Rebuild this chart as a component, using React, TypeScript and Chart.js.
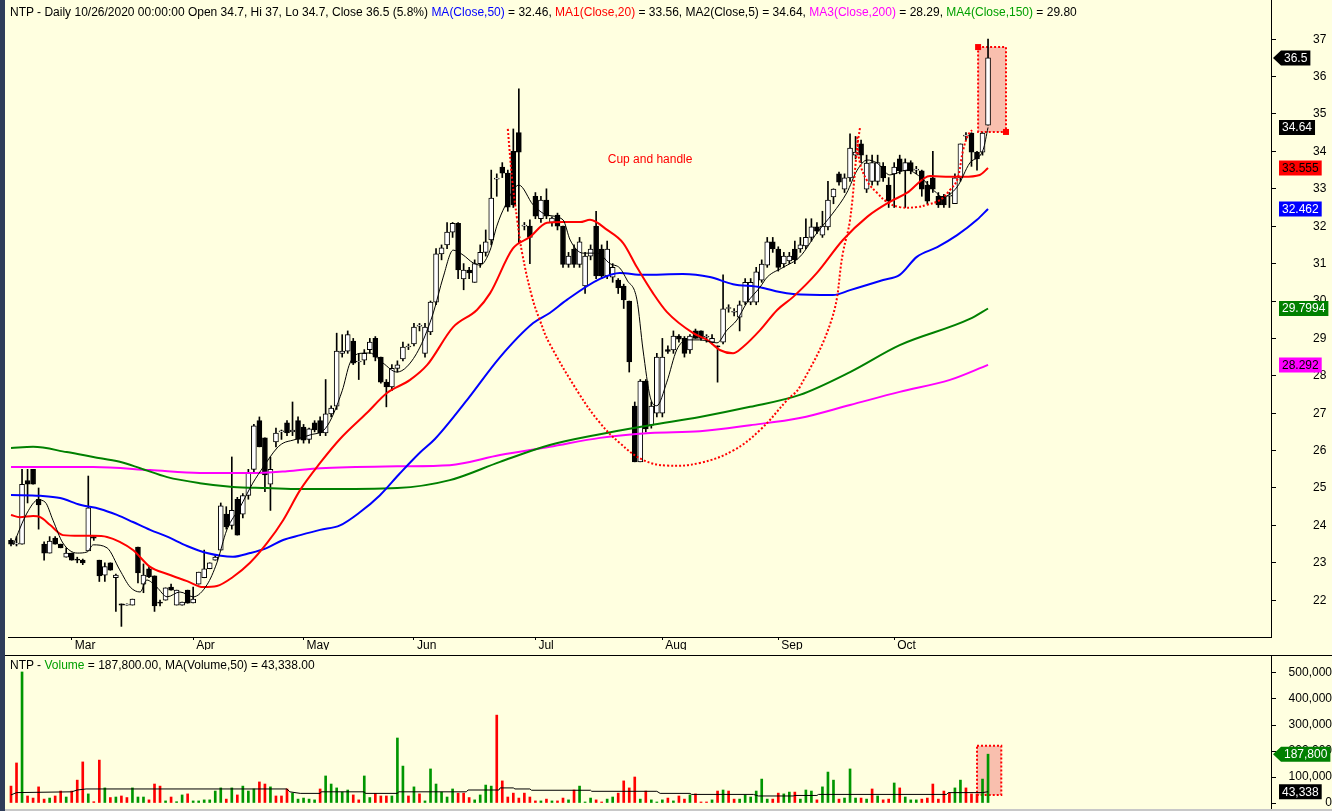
import React, { useEffect, useRef } from 'react';
import { Chart, registerables } from 'chart.js';
Chart.register(...registerables);

// ---------- DATA ----------
const monthStarts = [11, 33, 53, 73, 95, 118, 139, 160];
const monthLabels = ['Mar', 'Apr', 'May', 'Jun', 'Jul', 'Aug', 'Sep', 'Oct'];
const priceTicks = [22, 23, 24, 25, 26, 27, 28, 29, 30, 31, 32, 33, 34, 35, 36, 37];
const volumeTicks = [0, 100000, 200000, 300000, 400000, 500000];

const opens = [
  23.6, 23.5, 23.5, 25.2, 25.5, 24.7, 23.5, 23.26, 23.66, 23.5,
  23.15, 23.26, 23.1, 23.07, 23.32, 23.7, 23.07, 22.67, 23.0, 22.6,
  21.9, 21.87, 21.87, 23.42, 22.43, 22.84, 22.65, 21.95, 22.0, 22.35,
  21.87, 21.87, 22.27, 21.93, 22.43, 22.6, 22.84, 23.07, 23.34, 24.3,
  24.0, 24.7, 24.3, 24.8, 25.5, 26.8, 26.34, 25.1, 26.23, 26.5,
  26.74, 26.5, 26.8, 26.63, 26.3, 26.74, 26.8, 26.47, 26.98, 27.19,
  28.6, 28.66, 28.93, 28.37, 28.42, 28.7, 29.0, 28.5, 27.83, 27.7,
  28.2, 28.45, 28.77, 28.85, 29.33, 28.6, 29.17, 29.97, 31.26, 31.5,
  31.84, 32.08, 30.59, 30.83, 30.5, 31.0, 31.3, 31.63, 33.26, 33.58,
  33.42, 34.0, 34.5, 32.0, 32.0, 32.8, 32.2, 32.7, 32.1, 32.3,
  32.0, 30.98, 31.39, 30.98, 30.4, 31.2, 32.0, 31.39, 30.67, 30.64,
  30.56, 30.4, 30.0, 27.19, 25.7, 27.86, 26.68, 27.0, 27.0, 28.7,
  28.69, 29.06, 29.0, 28.69, 29.2, 29.2, 29.03, 28.9, 28.8, 28.9,
  29.8, 29.7, 29.57, 29.97, 29.97, 29.97, 30.56, 30.96, 31.58, 31.39,
  30.99, 31.07, 31.39, 31.39, 31.47, 31.7, 31.98, 31.76, 31.98, 32.78,
  33.4, 32.99, 33.29, 33.9, 34.2, 32.99, 33.2, 33.2, 33.6, 33.1,
  33.4, 33.8, 33.48, 33.7, 33.5, 33.48, 33.1, 33.29, 32.8, 32.8,
  32.8, 32.6, 33.29, 34.41, 34.49, 33.98, 33.98, 34.7
];
const highs = [
  23.65, 23.7, 25.5, 25.5, 25.5, 25.0, 23.56, 23.7, 23.7, 23.5,
  23.4, 23.26, 23.15, 23.1, 25.32, 23.7, 23.07, 23.0, 23.0, 22.7,
  21.9, 21.9, 22.03, 23.42, 22.97, 22.9, 22.65, 22.0, 22.33, 22.43,
  22.27, 21.95, 22.27, 22.35, 22.75, 23.34, 23.0, 23.2, 24.6, 24.5,
  25.83, 24.75, 24.85, 25.5, 26.7, 26.9, 26.34, 25.83, 26.6, 26.55,
  26.8, 27.3, 26.9, 26.7, 26.6, 26.8, 26.9, 27.9, 27.2, 29.14,
  29.1, 29.2, 29.0, 28.6, 28.7, 29.0, 29.05, 28.5, 27.9, 28.3,
  28.4, 28.9, 28.85, 29.4, 29.4, 29.4, 30.0, 31.4, 31.5, 32.1,
  32.1, 32.1, 31.0, 30.9, 31.1, 31.5, 31.9, 33.5, 33.4, 33.7,
  33.5, 34.6, 35.67, 32.1, 32.17, 32.9, 32.8, 33.0, 32.25, 32.35,
  32.0, 31.3, 31.5, 31.7, 31.3, 31.5, 32.4, 31.5, 31.6, 31.0,
  30.6, 30.45, 30.0, 27.3, 27.9, 27.9, 27.3, 28.6, 29.0, 28.8,
  29.2, 29.1, 29.05, 29.1, 29.25, 29.2, 29.1, 29.1, 28.8, 30.7,
  29.9, 29.8, 30.0, 30.6, 30.6, 30.9, 31.1, 31.7, 31.7, 31.45,
  31.3, 31.3, 31.6, 31.7, 32.2, 32.2, 32.1, 32.4, 33.2, 33.0,
  33.45, 33.4, 34.47, 34.4, 34.3, 33.9, 33.9, 33.9, 33.7, 33.3,
  33.7, 33.9, 33.8, 33.75, 33.6, 33.5, 33.2, 34.0, 32.9, 32.85,
  32.9, 33.4, 34.2, 34.5, 34.5, 34.0, 34.5, 37.0
];
const lows = [
  23.45, 23.45, 23.5, 24.6, 25.1, 23.9, 23.07, 23.26, 23.5, 23.4,
  23.15, 23.07, 23.0, 22.95, 23.32, 23.6, 22.5, 22.5, 22.8, 21.7,
  21.3, 21.87, 21.87, 22.46, 22.2, 22.6, 21.7, 21.85, 22.0, 22.27,
  21.87, 21.87, 21.92, 21.93, 22.43, 22.6, 22.84, 23.07, 23.34, 23.9,
  23.9, 23.74, 24.2, 24.7, 25.4, 26.1, 24.9, 24.4, 26.1, 26.3,
  26.4, 26.4, 26.2, 26.2, 26.2, 26.5, 26.4, 26.4, 26.9, 27.1,
  28.5, 28.6, 28.3, 27.9, 28.3, 28.6, 28.4, 27.8, 27.17, 27.6,
  28.1, 28.4, 28.7, 28.8, 29.2, 28.5, 29.1, 29.9, 31.1, 31.4,
  31.7, 30.6, 30.3, 30.6, 30.5, 30.9, 31.2, 31.5, 32.8, 33.3,
  32.4, 32.5, 31.55, 31.9, 31.0, 32.2, 32.1, 32.2, 32.0, 31.9,
  30.9, 30.9, 30.9, 30.9, 30.2, 31.1, 30.6, 30.6, 30.6, 30.5,
  30.2, 29.8, 28.1, 25.7, 25.7, 26.5, 26.6, 26.9, 26.9, 28.6,
  28.6, 28.9, 28.5, 28.6, 29.0, 28.95, 28.9, 28.85, 27.83, 28.85,
  29.7, 29.6, 29.2, 29.9, 29.9, 29.9, 30.5, 30.9, 31.3, 30.8,
  30.9, 31.0, 31.0, 31.3, 31.4, 31.6, 31.8, 31.7, 31.9, 32.6,
  33.1, 32.9, 33.2, 33.8, 33.7, 32.9, 33.1, 33.1, 33.2, 32.5,
  32.5, 33.4, 32.5, 33.4, 33.4, 32.8, 32.6, 32.9, 32.5, 32.5,
  32.5, 32.6, 33.2, 34.3, 33.6, 33.5, 33.9, 34.7
];
const closes = [
  23.5, 23.5, 25.1, 25.1, 25.1, 24.55, 23.26, 23.58, 23.5, 23.4,
  23.26, 23.07, 23.07, 23.0, 24.47, 23.66, 22.65, 22.9, 22.8, 22.67,
  21.87, 21.87, 22.03, 22.73, 22.67, 22.62, 21.85, 21.92, 22.33, 22.27,
  22.27, 21.95, 21.92, 22.03, 22.75, 22.84, 23.0, 23.15, 24.52, 23.96,
  24.4, 23.74, 24.8, 25.42, 26.66, 26.1, 25.35, 25.5, 26.47, 26.5,
  26.47, 26.55, 26.3, 26.28, 26.58, 26.55, 26.47, 26.98, 27.14, 28.66,
  28.66, 29.1, 28.34, 28.37, 28.6, 28.9, 28.5, 27.83, 27.7, 28.2,
  28.29, 28.77, 28.77, 29.3, 29.33, 29.3, 29.97, 31.26, 31.42, 31.84,
  32.08, 30.83, 30.83, 30.75, 31.0, 31.3, 31.58, 32.75, 33.26, 33.42,
  32.51, 32.57, 33.98, 32.0, 31.7, 32.27, 32.7, 32.27, 32.22, 32.0,
  30.98, 31.2, 30.98, 31.58, 31.2, 31.39, 30.67, 30.67, 31.39, 30.9,
  30.35, 30.03, 28.37, 25.7, 27.86, 26.58, 27.19, 28.5, 28.5, 28.65,
  29.06, 28.98, 28.6, 29.06, 29.0, 29.0, 29.03, 29.0, 28.77, 29.79,
  29.8, 29.7, 29.9, 30.5, 30.5, 30.78, 30.99, 31.58, 31.39, 30.9,
  31.2, 31.2, 31.1, 31.5, 31.7, 31.98, 31.87, 32.0, 32.7, 32.99,
  33.18, 33.29, 34.09, 33.98, 33.9, 33.69, 33.7, 33.7, 33.29, 32.67,
  33.58, 33.48, 33.7, 33.48, 33.5, 32.99, 32.67, 32.99, 32.57, 32.57,
  32.8, 33.29, 34.2, 34.41, 33.98, 33.8, 34.49, 36.5
];

const volumes = [
  65000, 154000, 504000, 27000, 19000, 62000, 15000, 19000, 27000, 46000,
  23000, 46000, 88000, 158000, 35000, 5000, 165000, 58000, 21000, 23000,
  27000, 21000, 58000, 23000, 23000, 12000, 73000, 65000, 8000, 23000,
  5000, 31000, 35000, 8000, 8000, 12000, 12000, 46000, 58000, 15000,
  58000, 31000, 65000, 46000, 54000, 81000, 73000, 62000, 27000, 27000,
  54000, 38000, 15000, 19000, 15000, 12000, 54000, 104000, 73000, 58000,
  42000, 50000, 31000, 12000, 104000, 21000, 37000, 27000, 27000, 27000,
  250000, 142000, 27000, 62000, 35000, 8000, 131000, 73000, 42000, 23000,
  54000, 38000, 38000, 21000, 12000, 31000, 69000, 65000, 338000,
  85000, 23000, 38000, 19000, 38000, 23000, 8000, 8000, 15000, 8000,
  8000, 19000, 12000, 50000, 65000, 4000, 19000, 12000, 4000, 15000,
  23000, 38000, 85000, 58000, 100000, 15000, 46000, 12000, 4000, 12000,
  19000, 8000, 27000, 15000, 31000, 35000, 4000, 4000, 12000, 46000,
  50000, 46000, 15000, 15000, 31000, 23000, 46000, 92000, 15000, 15000,
  38000, 35000, 42000, 42000, 15000, 50000, 46000, 12000, 62000, 119000,
  88000, 15000, 19000, 131000, 19000, 19000, 15000, 54000, 27000, 12000,
  15000, 77000, 58000, 23000, 12000, 12000, 15000, 19000, 73000, 15000,
  46000, 38000, 58000, 88000, 58000, 35000, 35000, 92000, 187800
];
// u = up day (green volume), d = down day (red volume)
const volumeDirection = [
  'd', 'd', 'u', 'd', 'd', 'd', 'd', 'u', 'd', 'd',
  'u', 'd', 'd', 'd', 'u', 'd', 'd', 'u', 'd', 'u',
  'd', 'd', 'u', 'u', 'u', 'd', 'd', 'd', 'u', 'd',
  'u', 'u', 'd', 'u', 'u', 'u', 'u', 'u', 'u', 'd',
  'u', 'd', 'u', 'u', 'u', 'd', 'd', 'u', 'd', 'd',
  'd', 'u', 'u', 'u', 'u', 'u', 'd', 'u', 'u', 'u',
  'u', 'u', 'd', 'd', 'u', 'u', 'd', 'd', 'd', 'u',
  'u', 'u', 'd', 'u', 'd', 'u', 'u', 'u', 'u', 'u',
  'u', 'd', 'd', 'd', 'u', 'u', 'u', 'u', 'd',
  'd', 'd', 'd', 'd', 'd', 'd', 'd', 'u', 'd', 'u',
  'd', 'd', 'u', 'd', 'u', 'u', 'u', 'd', 'd', 'u',
  'u', 'd', 'd', 'd', 'd', 'u', 'd', 'u', 'u', 'u',
  'd', 'u', 'd', 'd', 'u', 'd', 'd', 'd', 'u', 'd',
  'u', 'd', 'd', 'u', 'u', 'u', 'u', 'u', 'u', 'd',
  'd', 'u', 'u', 'd', 'u', 'u', 'u', 'd', 'u', 'u',
  'u', 'd', 'u', 'u', 'u', 'd', 'u', 'd', 'u', 'd',
  'd', 'u', 'd', 'u', 'u', 'u', 'd', 'd', 'd', 'd',
  'd', 'd', 'u', 'u', 'd', 'd', 'd', 'u', 'u'
];

// moving averages: [bar index, value]
const ma50 = [
  [0, 24.81], [5.3, 24.79], [8.9, 24.73], [12.5, 24.55], [16.1, 24.44], [19.2, 24.28],
  [22.1, 24.09], [25.2, 23.88], [28.3, 23.7], [31.9, 23.45], [35.5, 23.26], [40.2, 23.16],
  [43.3, 23.26], [46.4, 23.4], [49.3, 23.61], [52.4, 23.74], [56, 23.88], [59.6, 24.0],
  [63.2, 24.35], [66.8, 24.8], [70.5, 25.4], [74.1, 25.95], [76.8, 26.31], [82.6, 27.35],
  [88.6, 28.5], [94.6, 29.41], [97.6, 29.68], [100.7, 30.03], [106.7, 30.59], [110.3, 30.75],
  [114.5, 30.7], [121.7, 30.72], [126.6, 30.64], [130.8, 30.45], [135.7, 30.37], [139.3, 30.24],
  [141.7, 30.19], [148.9, 30.16], [152, 30.29], [158, 30.56], [161, 30.7], [164.1, 31.18],
  [167.8, 31.44], [171.4, 31.76], [175, 32.17], [177, 32.462]
];
const ma20 = [
  [0, 24.28], [1.6, 24.22], [4, 24.25], [5.3, 24.22], [7.1, 24.01], [9.4, 23.74], [12.5, 23.72],
  [14.9, 23.72], [17.4, 23.69], [19.7, 23.56], [22.1, 23.34], [25.2, 22.89], [28.3, 22.7],
  [31.9, 22.51], [34.8, 22.35], [37.3, 22.38], [40.2, 22.62], [43.3, 23.0], [46.4, 23.53],
  [49.3, 24.14], [52.4, 24.95], [56, 25.67], [59.6, 26.31], [64.5, 27.01], [68.1, 27.54],
  [72.3, 27.89], [75.4, 28.29], [80.1, 29.3], [84.4, 29.76], [86.8, 30.21], [90.9, 31.4],
  [94, 31.71], [97.1, 32.09], [100, 32.11], [103.1, 32.11], [104.9, 32.17], [108, 31.9],
  [110.9, 31.55], [113.4, 30.9], [116.3, 30.21], [118.8, 29.71], [123.6, 29.14], [126.1, 28.96],
  [128.4, 28.69], [130.8, 28.6], [132.6, 28.77], [135.7, 29.22], [138.8, 29.76], [141.7, 30.11],
  [146, 30.75], [150.7, 31.63], [155.1, 32.25], [159.2, 32.65], [162.3, 32.89], [166.5, 33.34],
  [170.1, 33.32], [172.5, 33.32], [175.5, 33.37], [177, 33.555]
];
const ma5 = [
  [0.4, 23.48], [2.9, 24.33], [4.9, 24.68], [6.2, 24.62], [7.6, 24.14], [9.4, 23.53], [12, 23.26],
  [13.8, 23.29], [14.9, 23.48], [17.4, 23.4], [19.7, 22.81], [21.6, 22.35], [23.4, 22.22],
  [24.6, 22.54], [26.4, 22.35], [28.3, 22.09], [30.6, 22.22], [33, 22.09], [35.5, 22.41],
  [37.3, 23.0], [39.1, 23.88], [41.5, 24.49], [43.8, 25.13], [45.7, 25.56], [48.2, 26.07],
  [49.3, 26.2], [51.1, 26.28], [54.2, 26.42], [57, 26.6], [60, 27.6], [61.4, 28.34], [63.2, 28.6],
  [65, 28.61], [67.4, 28.34], [69.9, 28.1], [71.7, 28.24], [74.1, 28.77], [76.5, 29.68],
  [78.3, 30.64], [80.1, 31.36], [81.9, 31.23], [83.7, 31.02], [85, 30.96], [86.8, 31.36],
  [88, 32.0], [89.5, 32.54], [92, 33.1], [94.6, 32.57], [97.1, 32.3], [100, 32.17], [101.3, 31.63],
  [103.6, 31.28], [106.2, 31.28], [108.5, 31.0], [110.3, 30.88], [111.6, 30.56], [113.4, 30.03],
  [114.5, 28.69], [115.8, 27.43], [117, 27.2], [118.8, 27.83], [120.6, 28.69], [122.5, 28.96],
  [124.8, 28.96], [127.9, 28.88], [129.7, 29.22], [131.5, 29.49], [133.3, 29.95], [135.7, 30.37],
  [137, 30.64], [139.9, 30.9], [142.9, 31.18], [146, 31.82], [148.9, 32.35], [151.4, 32.89],
  [153.3, 33.5], [155.1, 33.77], [156.9, 33.69], [159.2, 33.37], [162.3, 33.5], [164.7, 33.32],
  [167.1, 32.97], [168.8, 32.78], [171.4, 33.05], [173.7, 33.69], [176.1, 34.04], [177, 34.64]
];
const ma200 = [
  [0, 25.56], [14.9, 25.56], [25.2, 25.48], [34.2, 25.4], [43.3, 25.4], [50, 25.45], [56, 25.53],
  [70, 25.58], [79.5, 25.61], [88.6, 25.88], [97.6, 26.1], [106.7, 26.34], [115.8, 26.47],
  [124.8, 26.52], [133.9, 26.68], [142.9, 26.87], [152, 27.22], [161, 27.57], [170.1, 27.89],
  [177, 28.292]
];
const ma150 = [
  [0, 26.07], [4, 26.1], [10.1, 25.96], [14.9, 25.83], [19.7, 25.7], [23.4, 25.53], [28.3, 25.29],
  [34.2, 25.13], [40.2, 25.03], [46.4, 25.0], [52.4, 24.97], [56, 24.97], [70, 25.0], [79.5, 25.21],
  [88.6, 25.7], [97.6, 26.15], [106.7, 26.44], [115.8, 26.68], [124.8, 26.9], [133.9, 27.17],
  [142.9, 27.49], [152, 28.1], [161, 28.82], [173.7, 29.52], [177, 29.7994]
];
const volumeMa50 = [
  [0, 31000], [1, 40000], [11, 43000], [12, 50000], [13.6, 54000], [50, 54000], [50.5, 43000],
  [52.4, 37000], [56, 37000], [56.2, 43000], [64, 43000], [64.2, 37000], [70, 37000], [70.2, 43000],
  [82.5, 43000], [82.8, 50000], [88.4, 50000], [88.6, 58000], [91, 58000], [91.3, 54000],
  [94, 54000], [94.3, 49000], [105, 49000], [105.2, 45000], [117, 45000], [117.6, 37000],
  [123, 37000], [123.3, 33000], [134.5, 33000], [135.4, 27000], [141.7, 27000], [142, 29000],
  [146, 29000], [146.3, 33000], [169.5, 33000], [169.8, 40000], [176, 40000], [177, 43338]
];

// hand-drawn cup and handle (dotted red)
const cupCurve = [
  [90.0, 34.6], [90.8, 33.24], [91.7, 32.17], [92.6, 31.28], [94.4, 30.1], [95.8, 29.49],
  [97.5, 28.88], [103, 27.5], [106.7, 26.74], [110.3, 26.2], [114.5, 25.75], [118.8, 25.6],
  [124.8, 25.67], [130.8, 26.0], [135.7, 26.55], [140.6, 27.35], [142.9, 27.7], [148.7, 29.52],
  [150.7, 31.28], [152, 32.17], [153.3, 34.12], [153.8, 34.63]
];
const handleCurve = [
  [153.3, 34.39], [153.8, 33.69], [155.3, 33.16], [156.9, 32.89], [158.7, 32.65], [161, 32.51],
  [164.1, 32.51], [165.9, 32.57], [168.3, 32.7], [170.1, 32.97], [171.4, 33.24], [172.5, 34.04],
  [173.4, 34.44], [174.1, 34.57]
];
const cupLabel = 'Cup and handle';
const cupLabelAt = [108.1, 33.69];
const priceBox = [175.2, 180.25, 34.52, 36.79];
const volumeBox = [175.0, 179.4, 31000, 220000];

const priceTagValues = [36.5, 34.64, 33.555, 32.462, 29.7994, 28.292];
const volumeTagValues = [187800, 43338];

// ---------- LAYOUT / STYLE ----------
const BG = '#FFFFE0';
const FONT = "'Liberation Sans', Arial, Helvetica, sans-serif";
const X_MIN = -3 / 5.52;
const X_MAX = X_MIN + 1263 / 5.52;
const P_MAX = 30 + 301 / 37.4;
const P_MIN = P_MAX - 637 / 37.4;
const V_MAX = (147 / 26) * 100000;
const V_MIN = -(5 / 26) * 100000;
const GREEN_VOL = '#009600';

const priceTagStyles = [
  { bg: '#000000', fg: '#FFFFFF', arrow: true },
  { bg: '#000000', fg: '#FFFFFF', arrow: false },
  { bg: '#FF0000', fg: '#000000', arrow: false },
  { bg: '#0000FF', fg: '#FFFFFF', arrow: false },
  { bg: '#008000', fg: '#FFFFFF', arrow: false },
  { bg: '#FF00FF', fg: '#000000', arrow: false },
];
const volumeTagStyles = [
  { bg: '#008000', fg: '#FFFFFF', arrow: true },
  { bg: '#000000', fg: '#FFFFFF', arrow: false },
];

function drawTag(ctx: CanvasRenderingContext2D, y: number, text: string, st: any) {
  ctx.save();
  ctx.font = `12px ${FONT}`;
  const w = ctx.measureText(text).width;
  const x0 = 1279;
  const h = 15;
  ctx.fillStyle = st.bg;
  ctx.beginPath();
  if (st.arrow) {
    ctx.moveTo(1273, y);
    ctx.lineTo(x0 + 2, y - h / 2);
    ctx.lineTo(x0 + w + 8, y - h / 2);
    ctx.lineTo(x0 + w + 8, y + h / 2);
    ctx.lineTo(x0 + 2, y + h / 2);
    ctx.closePath();
  } else {
    ctx.rect(x0, y - h / 2, w + 6, h);
  }
  ctx.fill();
  ctx.fillStyle = st.fg;
  ctx.textBaseline = 'middle';
  ctx.textAlign = 'left';
  ctx.fillText(text, st.arrow ? x0 + 5 : x0 + 3, y + 0.5);
  ctx.restore();
}

function drawBox(chart: any, box: number[], yId: string) {
  const ctx = chart.ctx;
  const xs = chart.scales.x;
  const ys = chart.scales[yId];
  const x0 = xs.getPixelForValue(box[0]);
  const x1 = xs.getPixelForValue(box[1]);
  const y0 = ys.getPixelForValue(box[3]);
  const y1 = ys.getPixelForValue(box[2]);
  ctx.save();
  ctx.fillStyle = '#F9BFAE';
  ctx.fillRect(x0, y0, x1 - x0, y1 - y0);
  ctx.strokeStyle = '#FF0000';
  ctx.lineWidth = 2;
  ctx.setLineDash([2, 2]);
  ctx.strokeRect(x0, y0, x1 - x0, y1 - y0);
  ctx.restore();
}

const pricePlugin = {
  id: 'priceAnno',
  beforeDatasetsDraw(chart: any) {
    drawBox(chart, priceBox, 'y');
  },
  afterDatasetsDraw(chart: any) {
    const ctx = chart.ctx;
    const xs = chart.scales.x;
    const ys = chart.scales.y;
    const x0 = xs.getPixelForValue(priceBox[0]);
    const x1 = xs.getPixelForValue(priceBox[1]);
    const y0 = ys.getPixelForValue(priceBox[3]);
    const y1 = ys.getPixelForValue(priceBox[2]);
    ctx.save();
    ctx.fillStyle = '#FF0000';
    ctx.fillRect(x0 - 3, y0 - 3, 6, 6);
    ctx.fillRect(x1 - 3, y1 - 3, 6, 6);
    ctx.font = `12px ${FONT}`;
    ctx.textBaseline = 'alphabetic';
    ctx.textAlign = 'left';
    ctx.fillText(cupLabel, xs.getPixelForValue(cupLabelAt[0]), ys.getPixelForValue(cupLabelAt[1]));
    ctx.restore();
  },
  afterDraw(chart: any) {
    const ys = chart.scales.y;
    priceTagValues.forEach((v, i) => drawTag(chart.ctx, ys.getPixelForValue(v), String(v), priceTagStyles[i]));
  },
};

const volumePlugin = {
  id: 'volAnno',
  beforeDraw(chart: any) {
    const ctx = chart.ctx;
    ctx.save();
    ctx.fillStyle = '#000';
    ctx.fillRect(0, 5, chart.width, 1);
    ctx.restore();
  },
  beforeDatasetsDraw(chart: any) {
    drawBox(chart, volumeBox, 'y');
  },
  afterDraw(chart: any) {
    const ys = chart.scales.y;
    volumeTagValues.forEach((v, i) =>
      drawTag(chart.ctx, ys.getPixelForValue(v), v.toLocaleString('en-US'), volumeTagStyles[i])
    );
  },
};

const lineDs = (pts: number[][], color: string, width: number, order: number, extra: any = {}) => ({
  type: 'line',
  data: pts.map(([x, y]) => ({ x, y })),
  borderColor: color,
  borderWidth: width,
  pointRadius: 0,
  fill: false,
  order,
  ...extra,
});

export default function App() {
  const priceRef = useRef<HTMLCanvasElement>(null);
  const volRef = useRef<HTMLCanvasElement>(null);

  useEffect(() => {
    document.body.style.margin = '0';
    Chart.defaults.font.family = FONT;
    Chart.defaults.font.size = 12;
    Chart.defaults.color = '#000';

    const bodyColors = opens.map((o, i) => (closes[i] >= o ? '#FFFFFF' : '#000000'));
    const xScaleBase = {
      type: 'linear',
      min: X_MIN,
      max: X_MAX,
      offset: false,
    };

    const price = new Chart(priceRef.current as HTMLCanvasElement, {
      type: 'bar',
      data: {
        datasets: [
          {
            type: 'bar',
            data: highs.map((h, i) => ({ x: i, y: [lows[i], h] })),
            backgroundColor: '#000000',
            borderWidth: 0,
            barThickness: 1,
            grouped: false,
            order: 20,
          },
          {
            type: 'bar',
            data: opens.map((o, i) => ({ x: i, y: [Math.min(o, closes[i]), Math.max(o, closes[i])] })),
            backgroundColor: bodyColors,
            borderColor: '#000000',
            borderWidth: 1,
            borderSkipped: false,
            barThickness: 5,
            minBarLength: 1,
            grouped: false,
            order: 19,
          },
          lineDs(ma200, '#FF00FF', 2, 8, { cubicInterpolationMode: 'monotone' }),
          lineDs(ma150, '#008000', 2, 7, { cubicInterpolationMode: 'monotone' }),
          lineDs(ma50, '#0000FF', 2, 6, { cubicInterpolationMode: 'monotone' }),
          lineDs(ma20, '#FF0000', 2, 5, { cubicInterpolationMode: 'monotone' }),
          lineDs(ma5, '#000000', 1, 4, { cubicInterpolationMode: 'monotone' }),
          lineDs(cupCurve, '#FF0000', 2, 2, { borderDash: [2, 2], tension: 0.4 }),
          lineDs(handleCurve, '#FF0000', 2, 1, { borderDash: [2, 2], tension: 0.4 }),
        ] as any,
      },
      options: {
        animation: false,
        responsive: false,
        devicePixelRatio: 1,
        events: [],
        layout: { padding: { left: 8, right: 0, top: 0, bottom: 0 } },
        plugins: { legend: { display: false }, tooltip: { enabled: false } },
        scales: {
          x: {
            ...xScaleBase,
            grid: { drawOnChartArea: false, drawTicks: true, tickLength: 3, color: '#000', offset: false },
            border: { display: true, color: '#000', width: 1 },
            ticks: {
              autoSkip: false,
              maxRotation: 0,
              minRotation: 0,
              align: 'start',
              labelOffset: 3,
              padding: 0,
              color: '#000',
              font: { family: FONT, size: 12, lineHeight: 1 },
              callback: (_v: any, idx: number) => monthLabels[idx],
            },
            afterBuildTicks: (s: any) => {
              s.ticks = monthStarts.map((v) => ({ value: v }));
            },
            afterFit: (s: any) => {
              s.height = 13;
              s.paddingLeft = 0;
              s.paddingRight = 0;
            },
          },
          y: {
            type: 'linear',
            position: 'right',
            min: P_MIN,
            max: P_MAX,
            beginAtZero: false,
            grid: { drawOnChartArea: false, drawTicks: true, tickLength: 5, color: '#000' },
            border: { display: true, color: '#000', width: 1 },
            ticks: { padding: 37, color: '#000', font: { family: FONT, size: 12 } },
            afterBuildTicks: (s: any) => {
              s.ticks = priceTicks.map((v) => ({ value: v }));
            },
            afterFit: (s: any) => {
              s.width = 61;
              s.paddingTop = 0;
              s.paddingBottom = 0;
            },
          },
        },
      } as any,
      plugins: [pricePlugin],
    });

    const vol = new Chart(volRef.current as HTMLCanvasElement, {
      type: 'bar',
      data: {
        datasets: [
          {
            type: 'bar',
            data: volumes.map((v, i) => ({ x: i, y: v })),
            backgroundColor: volumes.map((_v, i) => (volumeDirection[i] === 'd' ? '#FF0000' : GREEN_VOL)),
            borderWidth: 0,
            barThickness: 2,
            grouped: false,
            order: 5,
          },
          lineDs(volumeMa50, '#000000', 1, 1),
        ] as any,
      },
      options: {
        animation: false,
        responsive: false,
        devicePixelRatio: 1,
        events: [],
        layout: { padding: { left: 8, right: 0, top: 6, bottom: 3 } },
        plugins: { legend: { display: false }, tooltip: { enabled: false } },
        scales: {
          x: { ...xScaleBase, display: false, grid: { display: false } },
          y: {
            type: 'linear',
            position: 'right',
            min: V_MIN,
            max: V_MAX,
            beginAtZero: false,
            grid: { drawOnChartArea: false, drawTicks: true, tickLength: 5, color: '#000' },
            border: { display: true, color: '#000', width: 1 },
            ticks: {
              padding: 8,
              crossAlign: 'far',
              color: '#000',
              font: { family: FONT, size: 12 },
              callback: (v: any) => Number(v).toLocaleString('en-US'),
            },
            afterBuildTicks: (s: any) => {
              s.ticks = volumeTicks.map((v) => ({ value: v }));
            },
            afterFit: (s: any) => {
              s.width = 61;
              s.paddingTop = 0;
              s.paddingBottom = 0;
            },
          },
        },
      } as any,
      plugins: [volumePlugin],
    });

    return () => {
      price.destroy();
      vol.destroy();
    };
  }, []);

  const textStyle: React.CSSProperties = {
    position: 'absolute',
    left: 10,
    fontFamily: FONT,
    fontSize: 12,
    lineHeight: '14px',
    whiteSpace: 'pre',
    color: '#000',
  };

  return (
    <div style={{ position: 'fixed', left: 0, top: 0, width: 1332, height: 811, background: BG, overflow: 'hidden' }}>
      <canvas ref={priceRef} width={1332} height={650} style={{ position: 'absolute', left: 0, top: 0 }} />
      <canvas ref={volRef} width={1332} height={161} style={{ position: 'absolute', left: 0, top: 650 }} />
      <div style={{ ...textStyle, top: 5 }}>
        <span>NTP - Daily 10/26/2020 00:00:00 Open 34.7, Hi 37, Lo 34.7, Close 36.5 (5.8%) </span>
        <span style={{ color: '#0000FF' }}>MA(Close,50)</span>
        <span> = 32.46, </span>
        <span style={{ color: '#FF0000' }}>MA1(Close,20)</span>
        <span> = 33.56, MA2(Close,5) = 34.64, </span>
        <span style={{ color: '#FF00FF' }}>MA3(Close,200)</span>
        <span> = 28.29, </span>
        <span style={{ color: '#00A000' }}>MA4(Close,150)</span>
        <span> = 29.80</span>
      </div>
      <div style={{ ...textStyle, top: 658 }}>
        <span>NTP - </span>
        <span style={{ color: '#00A000' }}>Volume</span>
        <span> = 187,800.00, MA(Volume,50) = 43,338.00</span>
      </div>
      <div style={{ position: 'absolute', left: 0, top: 0, width: 5, height: 811, background: '#2E3C58' }} />
      <div style={{ position: 'absolute', left: 5, top: 809, width: 1327, height: 2, background: '#C8C8C8' }} />
    </div>
  );
}
